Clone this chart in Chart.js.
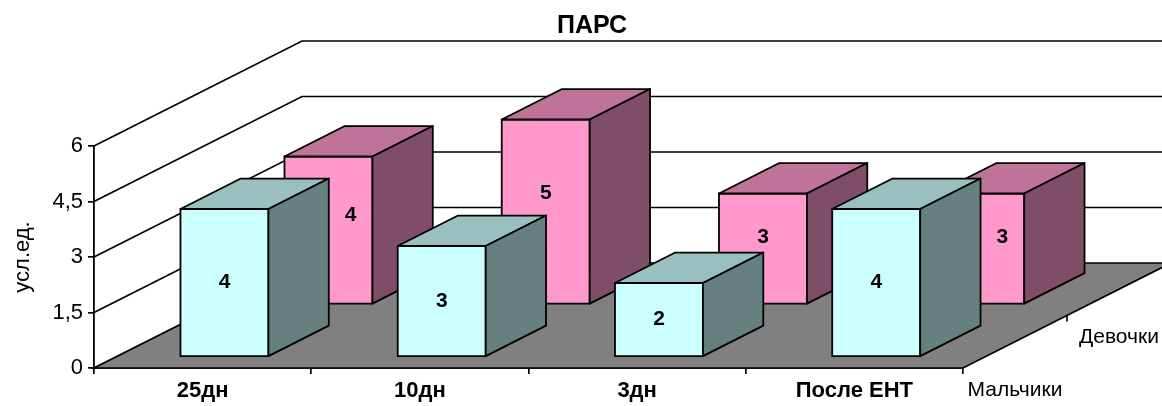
<!DOCTYPE html>
<html>
<head>
<meta charset="utf-8">
<script src="https://cdn.jsdelivr.net/npm/chart.js@4/dist/chart.umd.min.js"></script>
<style>
  html, body { margin: 0; padding: 0; background: #fff; }
  #wrap { width: 1162px; height: 406px; position: relative; }
</style>
</head>
<body>
<div id="wrap"><canvas id="chart"></canvas></div>
<script>
// ПАРС — 3D column chart, two rows (boys in front, girls behind).

const TITLE = 'ПАРС';
const CATEGORIES = ['25дн', '10дн', '3дн', 'После ЕНТ'];
const SERIES_NAMES = ['Мальчики', 'Девочки'];
const BOYS = [4, 3, 2, 4];
const GIRLS = [4, 5, 3, 3];
const Y_TICKS = [0, 1.5, 3, 4.5, 6];
const Y_TITLE = 'усл.ед.';

const FONT = 'Arial, "Liberation Sans", sans-serif';
// projection of the full floor depth
const DEPTH = { dx: 208, dy: -105 };
const ROW = 0.5, GAP = 0.105, BAR_D = 0.29;
const STYLE = [
  { front: '#ccffff', top: '#99bfbf', side: '#668080', labelAt: 0.5 },
  { front: '#ff99cc', top: '#bf7399', side: '#804d66', labelAt: 0.6 },
];

function poly(ctx, pts, fill) {
  ctx.beginPath();
  ctx.moveTo(pts[0][0], pts[0][1]);
  for (let i = 1; i < pts.length; i++) ctx.lineTo(pts[i][0], pts[i][1]);
  ctx.closePath();
  if (fill) { ctx.fillStyle = fill; ctx.fill(); }
  ctx.stroke();
}

function boxOf(chart, d, i) {
  const p = chart.getDatasetMeta(d).data[i].getProps(['x', 'y', 'base', 'width'], true);
  const f0 = d * ROW + GAP;
  const ox = f0 * DEPTH.dx, oy = f0 * DEPTH.dy;
  return {
    xl: p.x - p.width / 2 + ox, xr: p.x + p.width / 2 + ox,
    yt: p.y + oy, yb: p.base + oy,
    bx: BAR_D * DEPTH.dx, by: BAR_D * DEPTH.dy,
  };
}

const box3d = {
  id: 'box3d',
  beforeDatasetsDraw(chart) {
    const { ctx, chartArea: a, scales: { y } } = chart;
    const y0 = y.getPixelForValue(0);
    ctx.save();
    ctx.strokeStyle = '#000';
    ctx.lineWidth = 1.7;
    // side + back wall gridlines
    for (const v of Y_TICKS) {
      if (v === 0) continue;
      const py = y.getPixelForValue(v);
      ctx.beginPath();
      ctx.moveTo(a.left, py);
      ctx.lineTo(a.left + DEPTH.dx, py + DEPTH.dy);
      ctx.lineTo(chart.width, py + DEPTH.dy);
      ctx.stroke();
    }
    // floor
    poly(ctx, [[a.left, y0], [a.right, y0], [a.right + DEPTH.dx, y0 + DEPTH.dy], [a.left + DEPTH.dx, y0 + DEPTH.dy]], '#808080');
    // depth axis ticks and series names
    for (let k = 1; k < SERIES_NAMES.length; k++) {
      const tx = a.right + k * ROW * DEPTH.dx, ty = y0 + k * ROW * DEPTH.dy;
      ctx.beginPath(); ctx.moveTo(tx, ty); ctx.lineTo(tx, ty + 6); ctx.stroke();
    }
    ctx.fillStyle = '#000';
    ctx.font = '21px ' + FONT;
    ctx.textAlign = 'center';
    ctx.textBaseline = 'middle';
    SERIES_NAMES.forEach((name, k) => {
      const f = k * ROW + ROW / 2;
      ctx.fillText(name, a.right + f * DEPTH.dx, y0 + f * DEPTH.dy + 48);
    });
    // title
    ctx.font = 'bold 25px ' + FONT;
    ctx.fillText(TITLE, chart.width / 2 + 11, 26);
    ctx.restore();
  },
  afterDatasetsDraw(chart) {
    const { ctx } = chart;
    ctx.save();
    ctx.strokeStyle = '#000';
    ctx.lineWidth = 1.8;
    ctx.lineJoin = 'round';
    for (let d = chart.data.datasets.length - 1; d >= 0; d--) {
      const st = STYLE[d];
      chart.data.datasets[d].data.forEach((v, i) => {
        const b = boxOf(chart, d, i);
        poly(ctx, [[b.xl, b.yt], [b.xr, b.yt], [b.xr, b.yb], [b.xl, b.yb]], st.front);
        poly(ctx, [[b.xl, b.yt], [b.xr, b.yt], [b.xr + b.bx, b.yt + b.by], [b.xl + b.bx, b.yt + b.by]], st.top);
        poly(ctx, [[b.xr, b.yt], [b.xr + b.bx, b.yt + b.by], [b.xr + b.bx, b.yb + b.by], [b.xr, b.yb]], st.side);
        // value label, moved into the visible strip if the front bar hides it
        let lx = (b.xl + b.xr) / 2;
        const ly = b.yb + (b.yt - b.yb) * st.labelAt;
        if (d > 0) {
          const f = boxOf(chart, d - 1, i);
          const fr = f.xr + f.bx;
          if (lx - 8 < fr && lx + 8 > f.xl && ly > f.yt + f.by - 10 && ly < f.yb) lx = (fr + b.xr) / 2;
        }
        ctx.fillStyle = '#000';
        ctx.font = 'bold 21px ' + FONT;
        ctx.textAlign = 'center';
        ctx.textBaseline = 'middle';
        ctx.fillText(String(v), lx, ly);
      });
    }
    ctx.restore();
  },
};

new Chart(document.getElementById('chart'), {
  type: 'bar',
  data: {
    labels: CATEGORIES,
    datasets: [
      { label: SERIES_NAMES[0], data: BOYS, backgroundColor: 'transparent', borderWidth: 0 },
      { label: SERIES_NAMES[1], data: GIRLS, backgroundColor: 'transparent', borderWidth: 0 },
    ],
  },
  options: {
    responsive: true,
    maintainAspectRatio: false,
    animation: false,
    layout: { padding: { top: 146, right: 199, left: 0, bottom: 0 } },
    datasets: { bar: { grouped: false, categoryPercentage: 1, barPercentage: 0.405 } },
    plugins: { legend: { display: false }, tooltip: { enabled: false } },
    scales: {
      x: {
        offset: true,
        grid: { offset: true, drawOnChartArea: false, drawTicks: true, tickLength: 6, color: '#000', lineWidth: 1.7 },
        border: { display: true, color: '#000', width: 1.8 },
        ticks: { color: '#000', padding: 4, font: { family: FONT, size: 22, weight: 'bold' }, maxRotation: 0 },
        afterFit: s => { s.height = 38; },
      },
      y: {
        min: 0, max: 6,
        afterBuildTicks: s => { s.ticks = Y_TICKS.map(v => ({ value: v })); },
        grid: { drawOnChartArea: false, drawTicks: true, tickLength: 6, color: '#000', lineWidth: 1.7 },
        border: { display: true, color: '#000', width: 1.8 },
        ticks: { color: '#000', padding: 5, font: { family: FONT, size: 22 }, callback: v => String(v).replace('.', ',') },
        title: { display: true, text: Y_TITLE, color: '#000', font: { family: FONT, size: 22 }, padding: { top: 10 } },
        afterFit: s => { s.width = 94; },
      },
    },
  },
  plugins: [box3d],
});
</script>
</body>
</html>
